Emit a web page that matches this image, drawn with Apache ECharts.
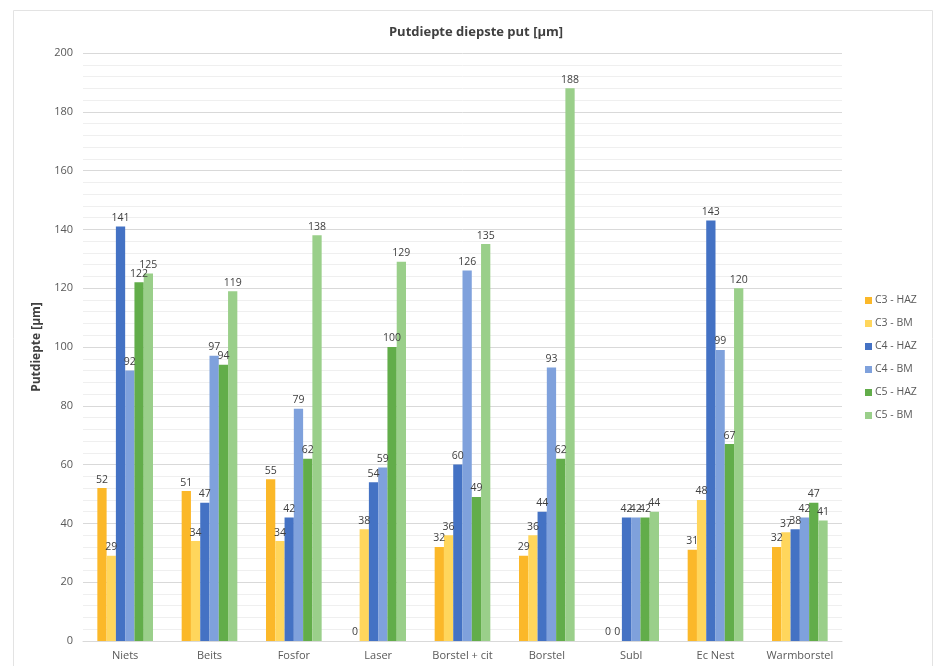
<!DOCTYPE html>
<html>
<head>
<meta charset="utf-8">
<script src="https://cdn.jsdelivr.net/npm/echarts@6/dist/echarts.min.js"></script>
<style>
html,body{margin:0;padding:0;background:#fff;}
#chart{width:933px;height:666px;}
</style>
</head>
<body>
<div id="chart"></div>
<script>
const categories = ['Niets','Beits','Fosfor','Laser','Borstel + cit','Borstel','Subl','Ec Nest','Warmborstel'];
const seriesNames = ['C3 - HAZ','C3 - BM','C4 - HAZ','C4 - BM','C5 - HAZ','C5 - BM'];
const c3HAZ = [52, 51, 55, 0, 32, 29, 0, 31, 32];
const c3BM  = [29, 34, 34, 38, 36, 36, 0, 48, 37];
const c4HAZ = [141, 47, 42, 54, 60, 44, 42, 143, 38];
const c4BM  = [92, 97, 79, 59, 126, 93, 42, 99, 42];
const c5HAZ = [122, 94, 62, 100, 49, 62, 42, 67, 47];
const c5BM  = [125, 119, 138, 129, 135, 188, 44, 120, 41];
const yTicks = [0, 20, 40, 60, 80, 100, 120, 140, 160, 180, 200];

const values = [c3HAZ, c3BM, c4HAZ, c4BM, c5HAZ, c5BM];
const colors = ['#FBB829','#FFD65C','#4472C4','#7FA1DC','#62AD4A','#9ACF8A'];

const chart = echarts.init(document.getElementById('chart'), null, {renderer:'canvas'});
chart.setOption({
  animation: false,
  backgroundColor: '#fff',
  graphic: [{
    type: 'rect', left: 11, top: 8, shape: {width: 919, height: 656},
    style: {fill: 'none', stroke: '#e3e3e3', lineWidth: 1}, silent: true
  }],
  title: {
    text: 'Putdiepte diepste put [µm]',
    left: 471, top: 21, textAlign: 'center',
    textStyle: {fontFamily: 'Open Sans', fontSize: 13, fontWeight: 'bold', color: '#404040'}
  },
  legend: {
    orient: 'vertical', left: 860, top: 290, itemGap: 12,
    itemWidth: 7, itemHeight: 7, icon: 'rect',
    textStyle: {fontFamily: 'Open Sans', fontSize: 10.5, color: '#595959', padding: [0,0,0,-2]},
    data: seriesNames
  },
  grid: {left: 83, right: 91, top: 53, bottom: 25, containLabel: false},
  xAxis: {
    type: 'category', data: categories,
    axisLine: {show: true, lineStyle: {color: '#d9d9d9'}},
    axisTick: {show: false},
    axisLabel: {interval: 0, fontFamily: 'Open Sans', fontSize: 11, color: '#595959', margin: 9}
  },
  yAxis: {
    type: 'value', min: yTicks[0], max: yTicks[yTicks.length-1], interval: yTicks[1]-yTicks[0],
    name: 'Putdiepte [µm]', nameLocation: 'middle', nameGap: 40, nameRotate: 90,
    nameTextStyle: {fontFamily: 'Open Sans', fontSize: 12, fontWeight: 'bold', color: '#404040'},
    axisLine: {show: false}, axisTick: {show: false},
    axisLabel: {fontFamily: 'Open Sans', fontSize: 11, color: '#595959', margin: 10},
    splitLine: {show: true, lineStyle: {color: '#d9d9d9', width: 1}},
    minorTick: {show: false, splitNumber: 5},
    minorSplitLine: {show: true, lineStyle: {color: '#efefef', width: 1}}
  },
  series: seriesNames.map((n, i) => ({
    name: n, type: 'bar', data: values[i],
    barGap: '0%', barCategoryGap: '34%',
    itemStyle: {color: colors[i]},
    label: {show: true, position: 'top', distance: 3,
      fontFamily: 'Open Sans', fontSize: 10.5, color: '#404040'}
  }))
});
</script>
</body>
</html>
